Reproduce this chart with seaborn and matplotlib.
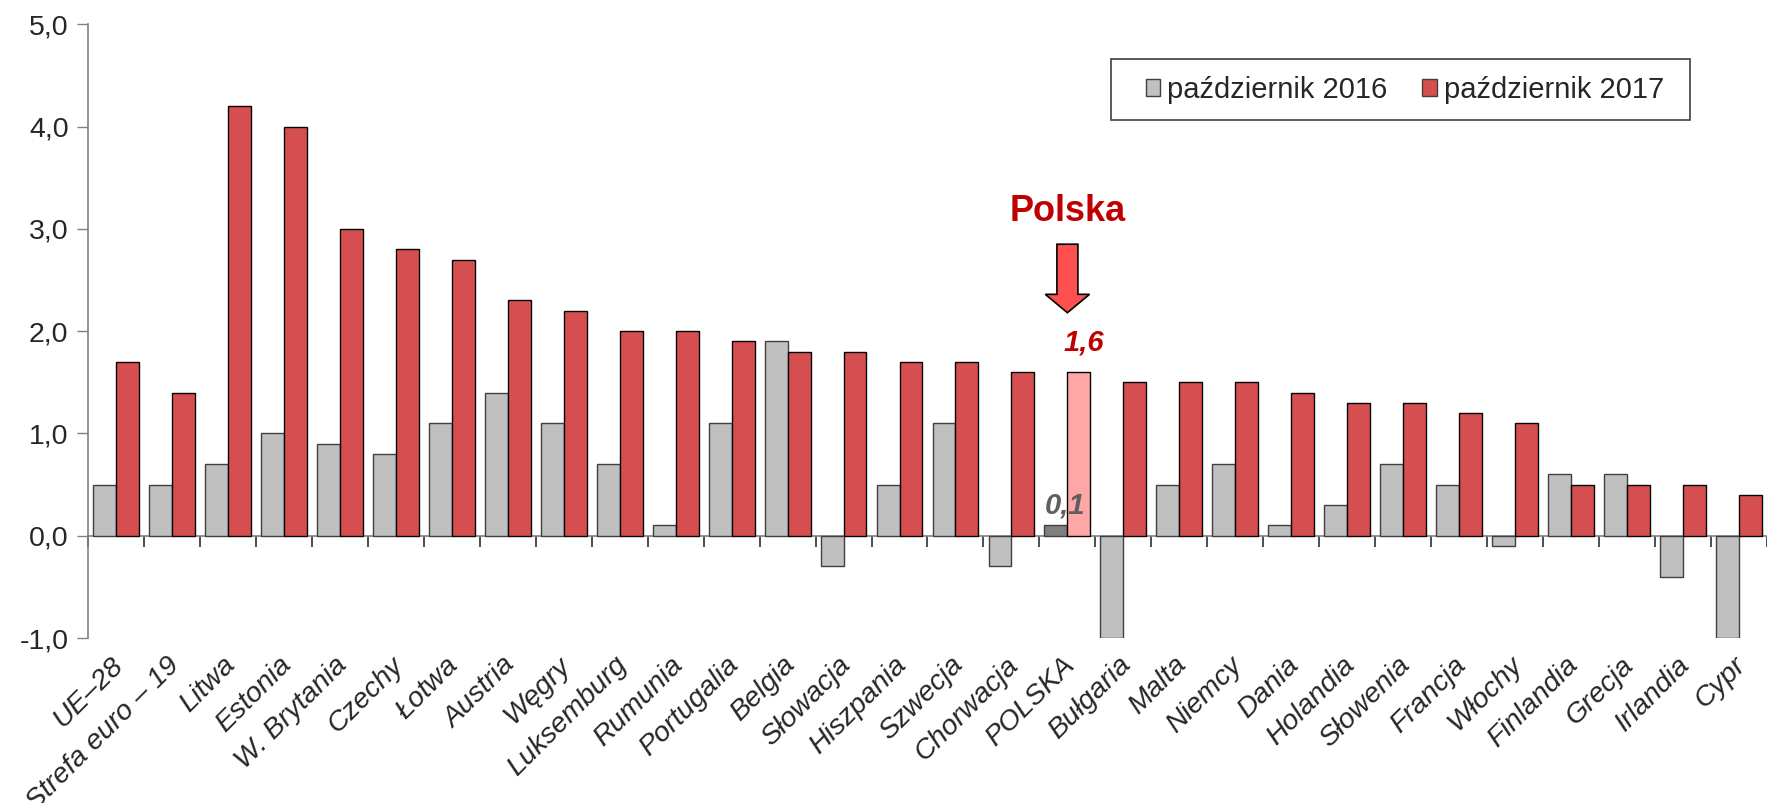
import pandas as pd
import matplotlib
matplotlib.use("Agg")
import matplotlib.pyplot as plt
import matplotlib.transforms as mtransforms
import seaborn as sns
from matplotlib.patches import FancyArrow, Rectangle
from matplotlib.ticker import FuncFormatter, MultipleLocator

# --- Data ---
countries = ["UE\u201328", "Strefa euro \u2013 19", "Litwa", "Estonia", "W. Brytania",
             "Czechy", "\u0141otwa", "Austria", "W\u0119gry", "Luksemburg",
             "Rumunia", "Portugalia", "Belgia", "S\u0142owacja", "Hiszpania",
             "Szwecja", "Chorwacja", "POLSKA", "Bu\u0142garia", "Malta",
             "Niemcy", "Dania", "Holandia", "S\u0142owenia", "Francja",
             "W\u0142ochy", "Finlandia", "Grecja", "Irlandia", "Cypr"]
oct_2016 = [0.5, 0.5, 0.7, 1.0, 0.9, 0.8, 1.1, 1.4, 1.1, 0.7,
            0.1, 1.1, 1.9, -0.3, 0.5, 1.1, -0.3, 0.1, -1.0, 0.5,
            0.7, 0.1, 0.3, 0.7, 0.5, -0.1, 0.6, 0.6, -0.4, -1.0]
oct_2017 = [1.7, 1.4, 4.2, 4.0, 3.0, 2.8, 2.7, 2.3, 2.2, 2.0,
            2.0, 1.9, 1.8, 1.8, 1.7, 1.7, 1.6, 1.6, 1.5, 1.5,
            1.5, 1.4, 1.3, 1.3, 1.2, 1.1, 0.5, 0.5, 0.5, 0.4]
series_names = ["pa\u017adziernik 2016", "pa\u017adziernik 2017"]
highlight = "POLSKA"

# --- Style ---
sns.set_style("white")
plt.rcParams['font.family'] = ['Liberation Sans', 'DejaVu Sans']

GRAY = "#C0C0C0"
RED = "#D64F50"
PL_GRAY = "#7F7F7F"
PL_RED = "#FFA6A6"
DARK_RED = "#C00000"

df = pd.DataFrame({
    "kraj": countries * 2,
    "wartosc": oct_2016 + oct_2017,
    "okres": [series_names[0]] * len(countries) + [series_names[1]] * len(countries),
})

fig = plt.figure(figsize=(17.67, 8.031), dpi=100)
ax = fig.add_axes([0.0498, 0.2055, 0.9502, 0.7641])

sns.barplot(data=df, x="kraj", y="wartosc", hue="okres", order=countries,
            palette=[GRAY, RED], saturation=1, edgecolor="black", linewidth=1.0,
            width=0.82, gap=0, ax=ax, legend=True, errorbar=None)

# gray bars get a dark gray outline
for bar in ax.containers[0]:
    bar.set_edgecolor("#404040")

# highlight Poland
pl_idx = countries.index(highlight)
ax.containers[0][pl_idx].set_facecolor(PL_GRAY)
ax.containers[1][pl_idx].set_facecolor(PL_RED)

ax.set_xlim(-0.5, len(countries) - 0.5)
ax.set_ylim(-1.0, 5.0)
ax.yaxis.set_major_locator(MultipleLocator(1.0))
ax.yaxis.set_major_formatter(FuncFormatter(lambda v, p: f"{v:.1f}".replace(".", ",")))
ax.tick_params(axis="y", labelsize=20.5, length=8, width=1, color="#808080",
               direction="out", left=True, pad=6)
ax.set_xlabel("")
ax.set_ylabel("")

# x labels at bottom, category boundary ticks on the zero line
ax.tick_params(axis="x", length=0, pad=10)
ax.set_xticks(range(len(countries)))
ax.set_xticklabels(countries, rotation=45, ha="right", rotation_mode="anchor",
                   fontsize=20.5, fontstyle="italic")
shift = mtransforms.ScaledTranslation(-6 / 100, 0, fig.dpi_scale_trans)
for lab in ax.get_xticklabels():
    lab.set_transform(lab.get_transform() + shift)
for s in ["top", "right", "bottom"]:
    ax.spines[s].set_visible(False)
ax.spines["left"].set_color("#808080")
ax.spines["left"].set_linewidth(1.2)

zero = ax.secondary_xaxis(1 / 6)
zero.set_xticks([i - 0.5 for i in range(len(countries) + 1)])
zero.tick_params(axis="x", length=8, width=1.2, color="#303030",
                 labelbottom=False, direction="out")
zero.spines["bottom"].set_color("#808080")
zero.spines["bottom"].set_linewidth(1.2)

# annotations for Poland
ax.text(pl_idx - 0.05, 0.30, "0,1", color="#5F5F5F", fontsize=21,
        fontweight="bold", fontstyle="italic", ha="center", va="center")
ax.text(pl_idx + 0.3, 1.89, "1,6", color=DARK_RED, fontsize=21,
        fontweight="bold", fontstyle="italic", ha="center", va="center")
ax.text(pl_idx, 3.17, "Polska", color=DARK_RED, fontsize=26,
        fontweight="bold", ha="center", va="center")
ax.add_patch(FancyArrow(pl_idx, 2.85, 0, -0.67, width=0.375, head_width=0.79,
                        head_length=0.18, length_includes_head=True,
                        facecolor="#FF5050", edgecolor="black", linewidth=1.2))

# legend with a hand-drawn frame (wider side padding than matplotlib allows)
leg = ax.legend(ncol=2, loc="center left", bbox_to_anchor=(1131 / 1767, 1 - 90 / 803),
                bbox_transform=fig.transFigure, fontsize=21, frameon=False,
                handlelength=0.5, handleheight=0.5, handletextpad=0.24,
                columnspacing=1.2, borderpad=0)
for h in leg.legend_handles:
    h.set_edgecolor("#404040")
fig.patches.append(Rectangle((1110.7 / 1767, 1 - 120 / 803), 579.3 / 1767, 61 / 803,
                             transform=fig.transFigure, fill=False,
                             edgecolor="#404040", linewidth=1.2))

fig.savefig("out.png", dpi=100)
